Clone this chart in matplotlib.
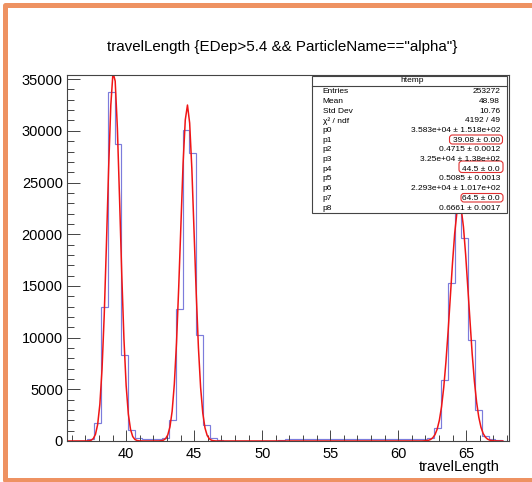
import matplotlib.pyplot as plt
import numpy as np
from matplotlib.patches import FancyBboxPatch, Rectangle
from matplotlib.ticker import MultipleLocator

plt.rcParams['font.family'] = ['Liberation Sans', 'DejaVu Sans']

# histogram: 65 bins of 0.5 starting at 35.65
bin_lo = 35.65
bin_width = 0.5
counts = [0, 0, 10, 150, 1710, 12990, 33715, 28720, 8315, 1050,
          290, 160, 150, 150, 290, 2030, 12730, 30070, 27820, 10250,
          1500, 290, 60, 30, 30, 30, 30, 30, 30, 30,
          40, 100, 150, 150, 160, 160, 170, 170, 170, 180,
          180, 180, 190, 190, 190, 200, 200, 200, 200, 200,
          190, 200, 210, 300, 1300, 5900, 15280, 22300, 19630, 9770,
          3000, 450, 150, 50, 20]

# fit result (3 gaussians) as printed in the stats box
amps = [3.583e4, 3.25e4, 2.293e4]
means = [39.08, 44.5, 64.5]
sigmas = [0.4715, 0.5085, 0.6661]
fit_range = (35.65, 67.7)

stat_labels = ['Entries', 'Mean', 'Std Dev', 'χ² / ndf', 'p0', 'p1', 'p2',
               'p3', 'p4', 'p5', 'p6', 'p7', 'p8']
stat_values = ['253272', '48.98', '10.76', '4192 / 49',
               '3.583e+04 ± 1.518e+02', '39.08 ± 0.00', '0.4715 ± 0.0012',
               '3.25e+04 ± 1.38e+02', '44.5 ± 0.0', '0.5085 ± 0.0013',
               '2.293e+04 ± 1.017e+02', '64.5 ± 0.0', '0.6661 ± 0.0017']
marked = ['p1', 'p4', 'p7']

W, H = 532, 482
DARK = '#444444'


def fit_curve(x):
    y = np.zeros_like(x)
    for a, m, s in zip(amps, means, sigmas):
        y += a * np.exp(-0.5 * ((x - m) / s) ** 2)
    return y


fig = plt.figure(figsize=(W / 100, H / 100), dpi=100)
fig.patch.set_facecolor('white')

ax = fig.add_axes([67 / W, 1 - 441 / H, (509 - 67) / W, (441 - 75) / H])
edges = bin_lo + bin_width * np.arange(len(counts) + 1)
ax.stairs(counts, edges, color='#7c7cdc', lw=0.85)
xf = np.linspace(fit_range[0], fit_range[1], 200)
ax.plot(xf, fit_curve(xf), color='#f01515', lw=1.1)

ax.set_xlim(edges[0], edges[-1])
ax.set_ylim(0, 1.05 * max(counts))
ax.xaxis.set_major_locator(MultipleLocator(5))
ax.xaxis.set_minor_locator(MultipleLocator(1))
ax.yaxis.set_major_locator(MultipleLocator(5000))
ax.yaxis.set_minor_locator(MultipleLocator(1000))
ax.tick_params(which='both', direction='in', top=False, right=False,
               color=DARK, width=0.7, labelsize=10.5)
ax.tick_params(axis='x', which='major', length=7.9, pad=4)
ax.tick_params(axis='x', which='minor', length=4.0)
ax.tick_params(axis='y', which='major', length=9.5, pad=3)
ax.tick_params(axis='y', which='minor', length=4.8)
for sp in ax.spines.values():
    sp.set_color(DARK)
    sp.set_linewidth(0.8)

# overlay in pixel coordinates for title, stats box and frame
ov = fig.add_axes([0, 0, 1, 1], zorder=5)
ov.set_xlim(0, W)
ov.set_ylim(H, 0)
ov.axis('off')
ov.patch.set_alpha(0)

ov.text(282.5, 46.7, 'travelLength {EDep>5.4 && ParticleName=="alpha"}',
        ha='center', va='center', fontsize=10.9)
ov.text(500, 466.7, 'travelLength', ha='right', va='center', fontsize=10.5)

ov.add_patch(Rectangle((312, 76), 195, 137, facecolor='white',
                       edgecolor=DARK, lw=0.8))
ov.plot([312, 507], [86, 86], color=DARK, lw=0.8)
ov.text(411.7, 81, 'htemp', ha='center', va='center', fontsize=6)
for i, (lab, val) in enumerate(zip(stat_labels, stat_values)):
    y = 91.7 + 9.7 * i
    ov.text(322.7, y, lab, ha='left', va='center', fontsize=6)
    ov.text(500, y, val, ha='right', va='center', fontsize=6)

# hand drawn red marks around fixed means
mark_boxes = {'p1': (449.5, 135, 53, 9), 'p4': (459, 161, 44, 11.5),
              'p7': (461, 193.5, 42, 8.5)}
for name in marked:
    x0, y0, w, h = mark_boxes[name]
    ov.add_patch(FancyBboxPatch((x0, y0), w, h,
                                boxstyle='round,pad=0,rounding_size=3',
                                fill=False, ec='#e03030', lw=0.8))

# orange frame of the screenshot, open to the right
ov.plot([W + 20, 4.5, 4.5, W + 20], [4.5, 4.5, 479.5, 479.5],
        color='#ee9262', lw=3.6, solid_joinstyle='round', clip_on=False)

fig.savefig('out.png', dpi=100)
